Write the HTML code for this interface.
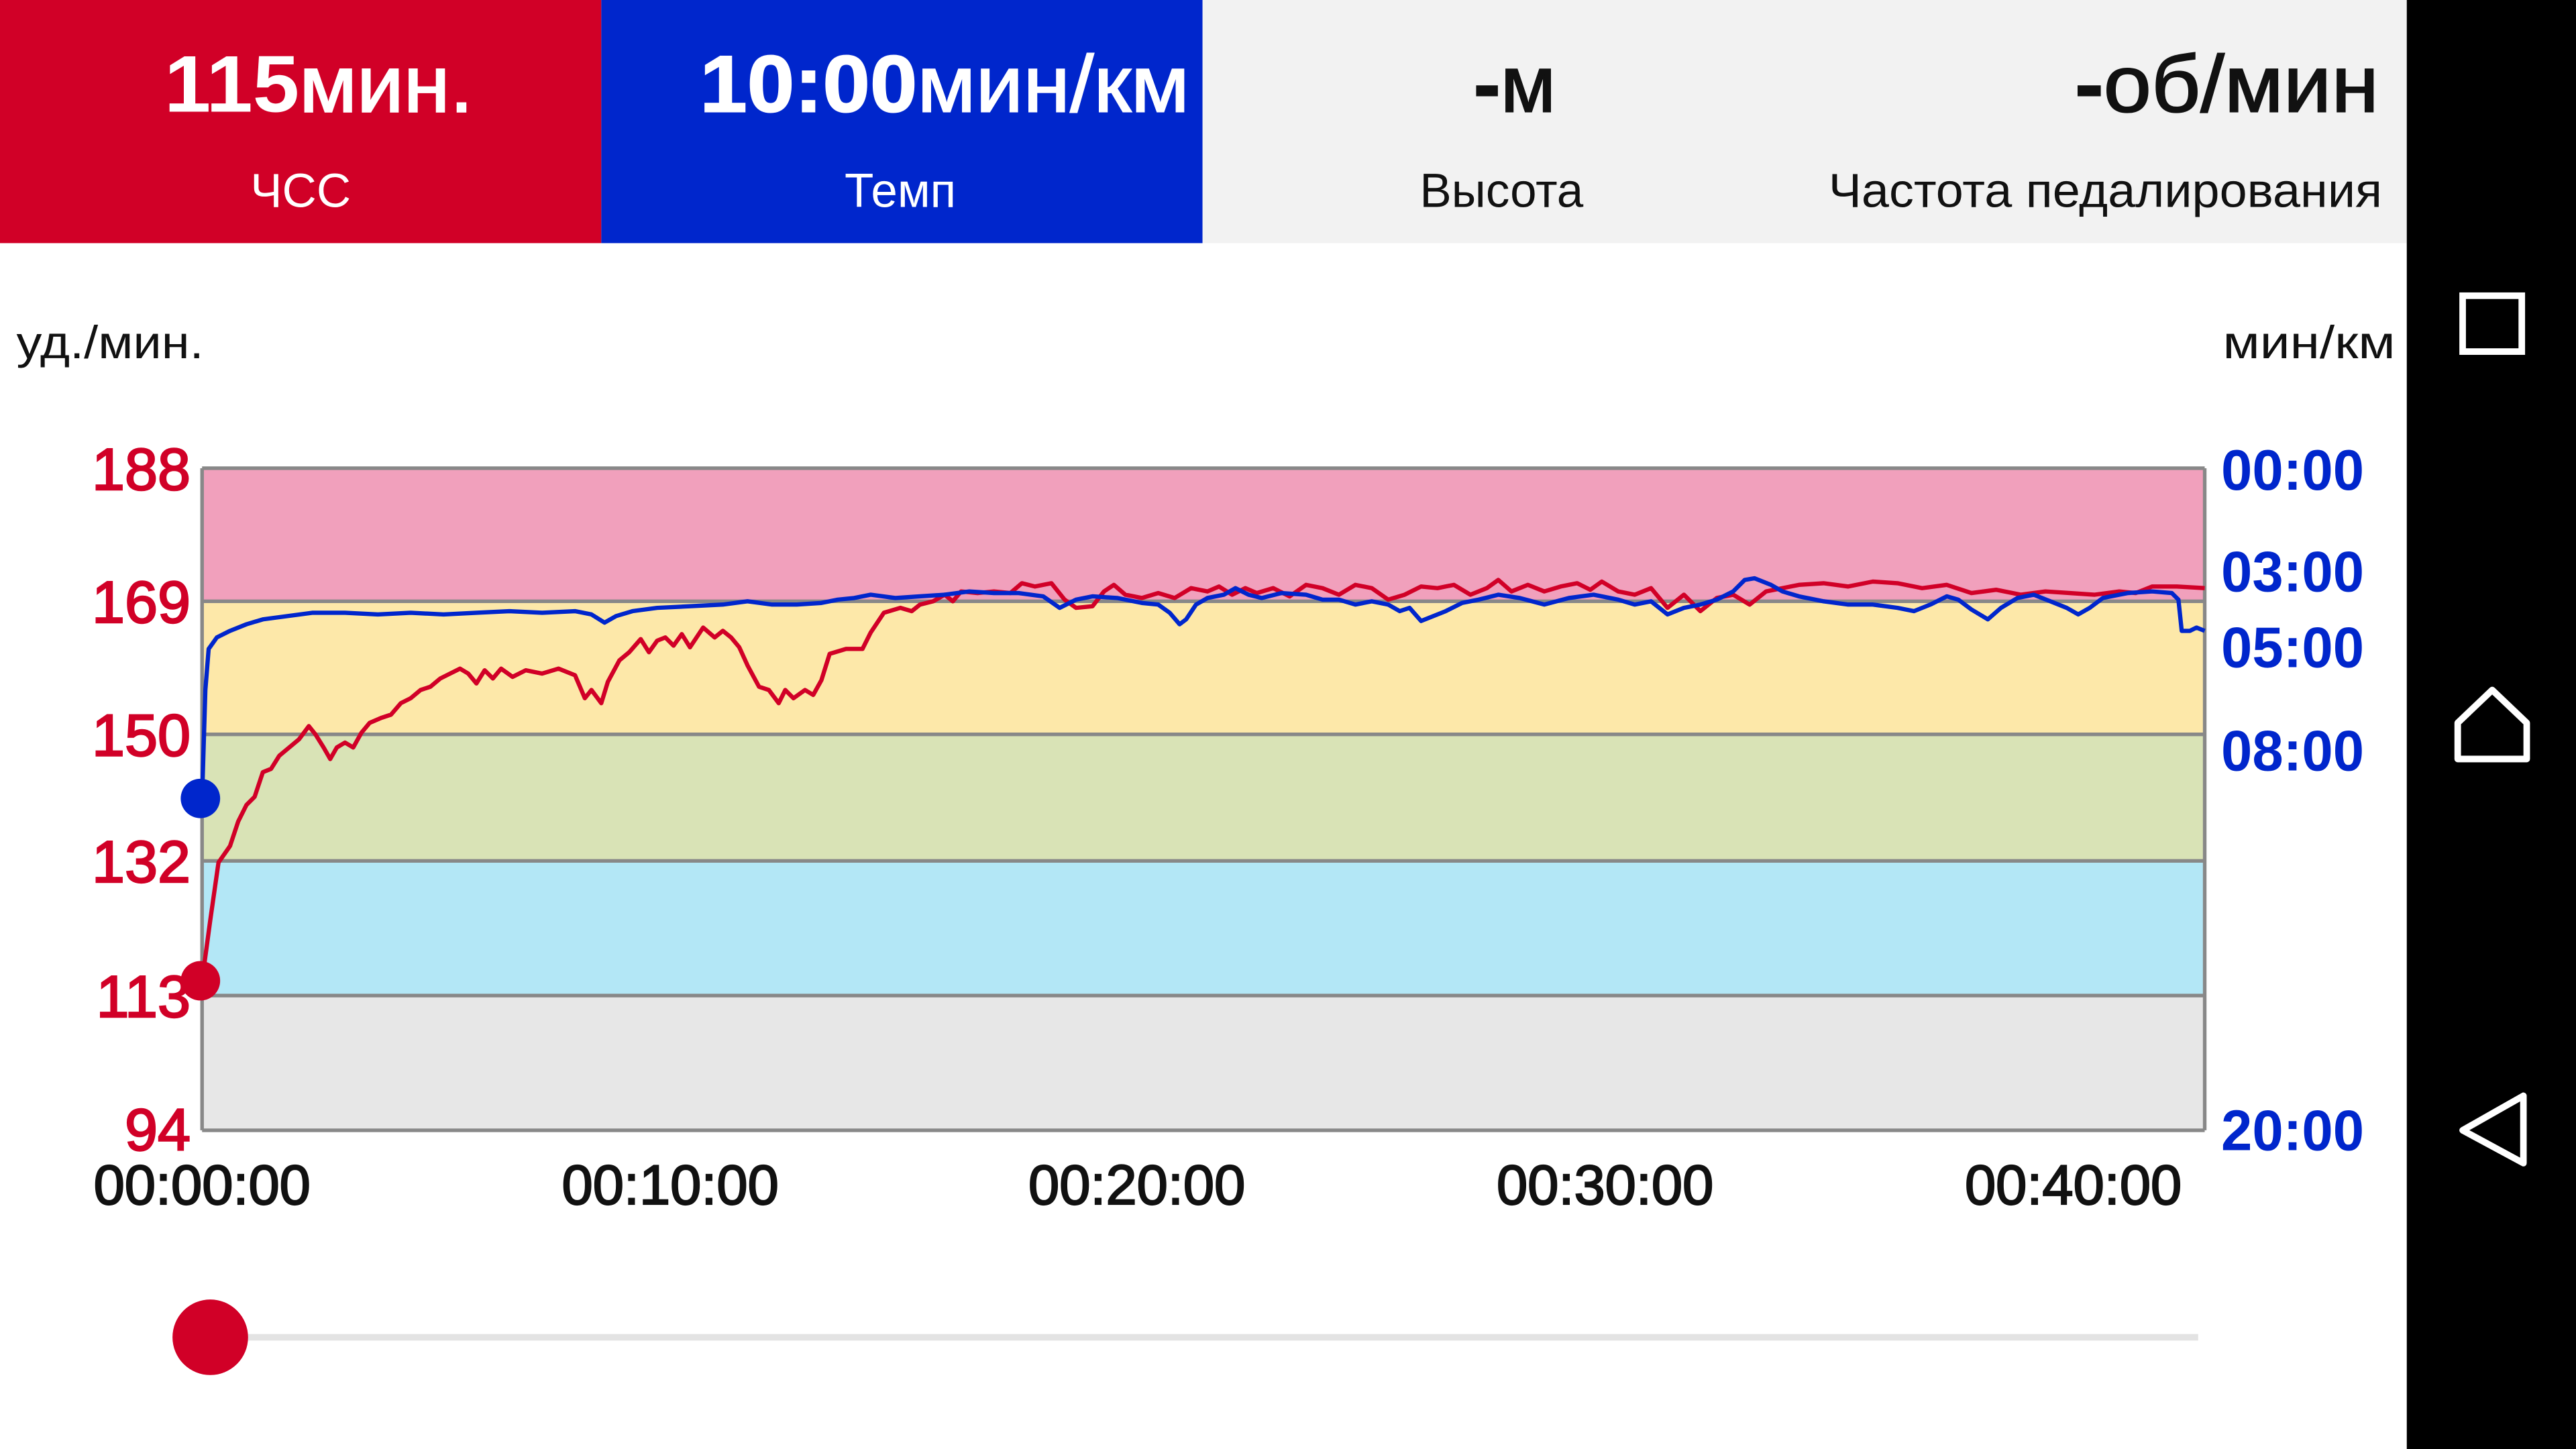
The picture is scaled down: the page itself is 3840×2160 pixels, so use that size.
<!DOCTYPE html>
<html><head><meta charset="utf-8"><style>
html,body{margin:0;padding:0;background:#fff;overflow:hidden}
svg{display:block}
text{font-family:"Liberation Sans",sans-serif}
</style></head><body>
<svg width="3840" height="2160" viewBox="0 0 1568 882" preserveAspectRatio="none" xmlns="http://www.w3.org/2000/svg">
<rect x="0" y="0" width="1568" height="882" fill="#fff"/>
<rect x="0" y="0" width="366" height="148" fill="#d10027"/>
<rect x="366" y="0" width="366" height="148" fill="#0026cc"/>
<rect x="732" y="0" width="733" height="148" fill="#f2f2f2"/>
<text x="194" y="68" font-size="49" font-weight="bold" fill="#fff" text-anchor="middle" textLength="188" lengthAdjust="spacingAndGlyphs">115<tspan font-weight="normal" stroke="#fff" stroke-width="1">мин.</tspan></text>
<text x="183" y="126" font-size="29" fill="#fff" text-anchor="middle">ЧСС</text>
<text x="575" y="68" font-size="49" fill="#fff" text-anchor="middle" stroke="#fff" stroke-width="0.8" textLength="298" lengthAdjust="spacingAndGlyphs"><tspan font-weight="bold">10:00</tspan>мин/км</text>
<text x="548" y="126" font-size="29" fill="#fff" text-anchor="middle">Темп</text>
<text x="922" y="68" font-size="49" fill="#111" text-anchor="middle" stroke="#111" stroke-width="0.8"><tspan font-weight="bold">-</tspan>м</text>
<text x="914" y="126" font-size="29" fill="#111" text-anchor="middle">Высота</text>
<text x="1448" y="68" font-size="49" fill="#111" text-anchor="end" stroke="#111" stroke-width="0.8" textLength="185" lengthAdjust="spacingAndGlyphs"><tspan font-weight="bold">-</tspan>об/мин</text>
<text x="1450" y="126" font-size="29" fill="#111" text-anchor="end" textLength="337" lengthAdjust="spacingAndGlyphs">Частота педалирования</text>
<rect x="1465" y="0" width="103" height="882" fill="#000"/>
<rect x="1499" y="180" width="36" height="34" fill="none" stroke="#fff" stroke-width="4"/>
<path d="M1496 462 V440 L1517 420 L1538 440 V462 Z" fill="none" stroke="#fff" stroke-width="4" stroke-linejoin="round"/>
<path d="M1536 667 V708 L1499 688 Z" fill="none" stroke="#fff" stroke-width="4" stroke-linejoin="round"/>
<text x="10" y="218" font-size="28" fill="#111" textLength="114" lengthAdjust="spacingAndGlyphs">уд./мин.</text>
<text x="1458" y="218" font-size="28" fill="#111" text-anchor="end" textLength="105" lengthAdjust="spacingAndGlyphs">мин/км</text>
<rect x="123" y="285" width="1219" height="81" fill="#f1a0bc"/>
<rect x="123" y="366" width="1219" height="81" fill="#fde8a9"/>
<rect x="123" y="447" width="1219" height="77" fill="#d9e3b6"/>
<rect x="123" y="524" width="1219" height="82" fill="#b3e7f6"/>
<rect x="123" y="606" width="1219" height="82" fill="#e7e7e7"/>
<g stroke="#888" stroke-width="2.2">
<line x1="123" y1="285" x2="1342" y2="285"/>
<line x1="123" y1="366" x2="1342" y2="366"/>
<line x1="123" y1="447" x2="1342" y2="447"/>
<line x1="123" y1="524" x2="1342" y2="524"/>
<line x1="123" y1="606" x2="1342" y2="606"/>
<line x1="123" y1="688" x2="1342" y2="688"/>
<line x1="123" y1="285" x2="123" y2="688"/>
<line x1="1342" y1="285" x2="1342" y2="688"/>
</g>
<g font-size="36" fill="#d10027" stroke="#d10027" stroke-width="1" text-anchor="end">
<text x="116" y="298">188</text>
<text x="116" y="379">169</text>
<text x="116" y="460">150</text>
<text x="116" y="537">132</text>
<text x="116" y="619">113</text>
<text x="116" y="700">94</text>
</g>
<g font-size="35" font-weight="bold" fill="#0026cc">
<text x="1352" y="298" textLength="87" lengthAdjust="spacingAndGlyphs">00:00</text>
<text x="1352" y="360" textLength="87" lengthAdjust="spacingAndGlyphs">03:00</text>
<text x="1352" y="406" textLength="87" lengthAdjust="spacingAndGlyphs">05:00</text>
<text x="1352" y="469" textLength="87" lengthAdjust="spacingAndGlyphs">08:00</text>
<text x="1352" y="700" textLength="87" lengthAdjust="spacingAndGlyphs">20:00</text>
</g>
<g font-size="34" fill="#111" stroke="#111" stroke-width="0.9" text-anchor="middle">
<text x="123" y="733" textLength="132" lengthAdjust="spacingAndGlyphs">00:00:00</text>
<text x="408" y="733" textLength="132" lengthAdjust="spacingAndGlyphs">00:10:00</text>
<text x="692" y="733" textLength="132" lengthAdjust="spacingAndGlyphs">00:20:00</text>
<text x="977" y="733" textLength="132" lengthAdjust="spacingAndGlyphs">00:30:00</text>
<text x="1262" y="733" textLength="132" lengthAdjust="spacingAndGlyphs">00:40:00</text>
</g>
<polyline fill="none" stroke="#d10027" stroke-width="2.6" stroke-linejoin="round" points="123,597 128,560 133,525 140,515 145,500 150,490 155,485 160,470 165,468 170,460 176,455 182,450 188,442 192,447 197,455 201,462 205,455 210,452 215,455 220,446 225,440 232,437 238,435 244,428 250,425 256,420 262,418 268,413 274,410 280,407 285,410 290,416 295,408 300,413 305,407 312,412 320,408 330,410 340,407 350,411 356,425 360,420 366,428 370,415 377,402 383,397 390,389 395,397 400,390 405,388 410,393 415,386 420,394 428,382 435,388 440,384 445,388 450,394 455,405 462,418 468,420 474,428 478,420 483,425 490,420 495,423 500,414 505,398 515,395 525,395 530,385 538,373 548,370 555,372 560,368 568,366 575,362 580,366 585,360 595,361 605,360 615,361 622,355 630,357 640,355 648,365 655,370 665,369 672,360 678,356 685,362 695,364 705,361 715,364 725,358 735,360 742,357 750,362 758,358 765,361 775,358 785,363 795,356 805,358 815,362 825,356 835,358 845,365 855,362 865,357 875,358 885,356 895,362 905,358 912,353 920,360 930,356 940,360 950,357 960,355 968,359 975,354 985,360 995,362 1005,358 1015,370 1025,362 1035,372 1045,364 1055,362 1065,368 1075,360 1085,358 1095,356 1110,355 1125,357 1140,354 1155,355 1170,358 1185,356 1200,361 1215,359 1230,362 1245,360 1260,361 1275,362 1290,360 1300,361 1310,357 1325,357 1342,358"/>
<polyline fill="none" stroke="#0026cc" stroke-width="2.6" stroke-linejoin="round" points="123,486 125,420 127,395 132,388 140,384 150,380 160,377 175,375 190,373 210,373 230,374 250,373 270,374 290,373 310,372 330,373 350,372 360,374 368,379 375,375 385,372 400,370 420,369 440,368 455,366 470,368 485,368 500,367 510,365 520,364 530,362 545,364 560,363 575,362 590,360 605,361 620,361 635,363 645,370 655,365 665,363 680,364 695,367 705,368 712,373 718,380 722,377 728,368 735,364 745,362 752,358 760,362 768,364 780,361 795,362 805,365 815,365 825,368 835,366 845,368 852,372 858,370 865,378 870,376 880,372 890,367 900,365 912,362 925,364 940,368 955,364 970,362 985,365 995,368 1005,366 1015,374 1025,370 1035,368 1045,365 1055,360 1062,353 1068,352 1078,356 1085,360 1095,363 1110,366 1125,368 1140,368 1155,370 1165,372 1175,368 1185,363 1192,365 1200,371 1210,377 1218,370 1228,364 1238,362 1248,366 1258,370 1265,374 1272,370 1280,364 1295,361 1310,360 1322,361 1326,365 1328,384 1333,384 1337,382 1342,384"/>
<circle cx="122" cy="486" r="12" fill="#0026cc"/>
<circle cx="122" cy="597" r="12" fill="#d10027"/>
<line x1="128" y1="814" x2="1338" y2="814" stroke="#e3e3e3" stroke-width="4"/>
<circle cx="128" cy="814" r="23" fill="#d10027"/>
</svg>
</body></html>
